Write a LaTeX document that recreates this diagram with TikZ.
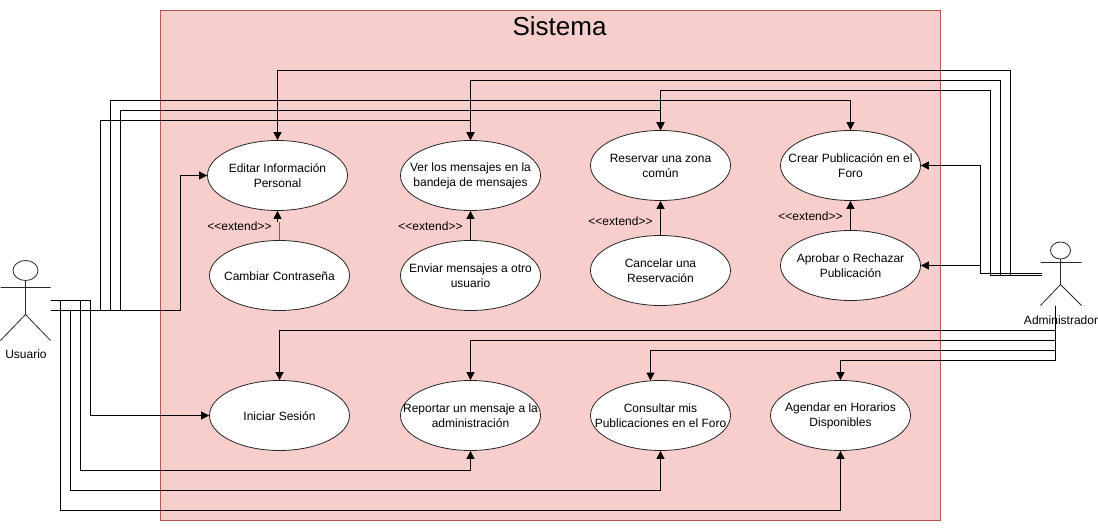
\documentclass[tikz,border=0pt]{standalone}
\usepackage{fontspec}
\setmainfont{Liberation Sans}
\usetikzlibrary{shapes.geometric,arrows.meta}
\definecolor{sysfill}{HTML}{F8CECC}
\definecolor{sysline}{HTML}{B85450}
\tikzset{
 uc/.style={ellipse,draw=black!85,fill=white,line width=0.8pt,minimum width=140pt,minimum height=70pt,inner sep=0pt,
   label={[align=center,inner sep=0pt,yshift=-0.5pt,font=\fontsize{12}{15}\selectfont]center:#1}},
 conn/.style={draw=black,line width=1pt,-{Triangle[length=8pt,width=8pt]}},
 ext/.style={draw=black,line width=1pt,-{Triangle[length=8pt,width=8pt]}},
 lab/.style={font=\fontsize{12}{14}\selectfont,inner sep=0pt},
 extlab/.style={font=\fontsize{12}{14}\selectfont,inner sep=0pt},
 actor/.style={draw=black!85,line width=0.8pt}
}
\newcommand{\extendtxt}{{<}{<}extend{>}{>}}
\begin{document}
\begin{tikzpicture}[x=1pt,y=-1pt]
\useasboundingbox (0,0) rectangle (1098,532);
\begin{scope}[xshift=0.5pt,yshift=-0.5pt]
\node[draw=sysline,fill=sysfill,line width=0.8pt,minimum width=780pt,minimum height=510pt,inner sep=0pt] (sys) at (550,265) {};
\node[font=\fontsize{26}{30}\selectfont,inner sep=0pt] (title) at (559,25.5) {Sistema};
% actors
\draw[actor] (25,270) ellipse (12.5pt and 10pt);
\draw[actor] (25,280) -- (25,314) (0,287) -- (50,287) (0,340) -- (25,314) -- (50,340);
\draw[actor] (1060,250) ellipse (10pt and 8.5pt);
\draw[actor] (1060,258.5) -- (1060,284) (1040,262) -- (1081,262) (1040,305) -- (1060,284) -- (1081,305);
\node[lab] (usuario) at (25.5,353.5) {Usuario};
\node[lab] (admin) at (1060.5,319.5) {Administrador};
\coordinate (uA) at (50,310);
\coordinate (uB) at (50,300);
\coordinate (aA) at (1041,272.5);
\coordinate (aB) at (1041,275);
\coordinate (aC) at (1055,305);
\coordinate (kA) at (279,221);
\coordinate (kB) at (277,221);
% use cases
\node[uc={Editar Información\\Personal}] (editar) at (277,175) {};
\node[uc={Cambiar Contraseña}] (cambiar) at (279,275) {};
\node[uc={Ver los mensajes en la\\bandeja de mensajes}] (ver) at (470,175) {};
\node[uc={Enviar mensajes a otro\\usuario}] (enviar) at (470,275) {};
\node[uc={Reservar una zona\\común}] (reservar) at (660,165) {};
\node[uc={Cancelar una\\Reservación}] (cancelar) at (660,270) {};
\node[uc={Crear Publicación en el\\Foro}] (crear) at (850,165) {};
\node[uc={Aprobar o Rechazar\\Publicación}] (aprobar) at (850,265) {};
\node[uc={Iniciar Sesión}] (iniciar) at (279,415) {};
\node[uc={Reportar un mensaje a la\\administración}] (reportar) at (470,415) {};
\node[uc={Consultar mis\\Publicaciones en el Foro}] (consultar) at (660,415) {};
\node[uc={Agendar en Horarios\\Disponibles}] (agendar) at (840,415) {};
% usuario
\draw[conn] (uA) -- (180,310) -- (180,175) -- (editar.west);
\draw[conn] (uA) -- (100,310) -- (100,120) -- (470,120) -- (ver.north);
\draw[conn] (uA) -- (120,310) -- (120,110) -- (660,110) -- (reservar.north);
\draw[conn] (uA) -- (110,310) -- (110,100) -- (850,100) -- (crear.north);
\draw[conn] (uB) -- (90,300) -- (90,415) -- (iniciar.west);
\draw[conn] (uB) -- (80,300) -- (80,470) -- (470,470) -- (reportar.south);
\draw[conn] (uA) -- (70,310) -- (70,490) -- (660,490) -- (consultar.south);
\draw[conn] (uB) -- (60,300) -- (60,510) -- (840,510) -- (agendar.south);
% admin
\draw[conn] (aB) -- (1010,275) -- (1010,70) -- (277,70) -- (editar.north);
\draw[conn] (aB) -- (1000,275) -- (1000,80) -- (470,80) -- (ver.north);
\draw[conn] (aB) -- (990,275) -- (990,90) -- (660,90) -- (reservar.north);
\draw[conn] (aA) -- (980,272.5) -- (980,165) -- (crear.east);
\draw[conn] (aA) -- (980,272.5) -- (980,265) -- (aprobar.east);
\draw[conn] (aC) -- (1055,330) -- (279,330) -- (iniciar.north);
\draw[conn] (aC) -- (1055,340) -- (470,340) -- (reportar.north);
\draw[conn] (aC) -- (1055,350) -- (650,350) -- (650,380);
\draw[conn] (aC) -- (1055,360) -- (840,360) -- (agendar.north);
% extend
\draw[draw=black!60,line width=1.3pt] (cambiar.north) -- (kA);
\draw[ext] (kB) -- (editar.south);
\draw[ext] (enviar.north) -- (ver.south);
\draw[ext] (cancelar.north) -- (reservar.south);
\draw[ext] (aprobar.north) -- (crear.south);
\node[extlab] (e1) at (239,225.5) {\extendtxt};
\node[extlab] (e2) at (430,225.5) {\extendtxt};
\node[extlab] (e3) at (620,220.5) {\extendtxt};
\node[extlab] (e4) at (810,215.5) {\extendtxt};
\end{scope}
\end{tikzpicture}
\end{document}
